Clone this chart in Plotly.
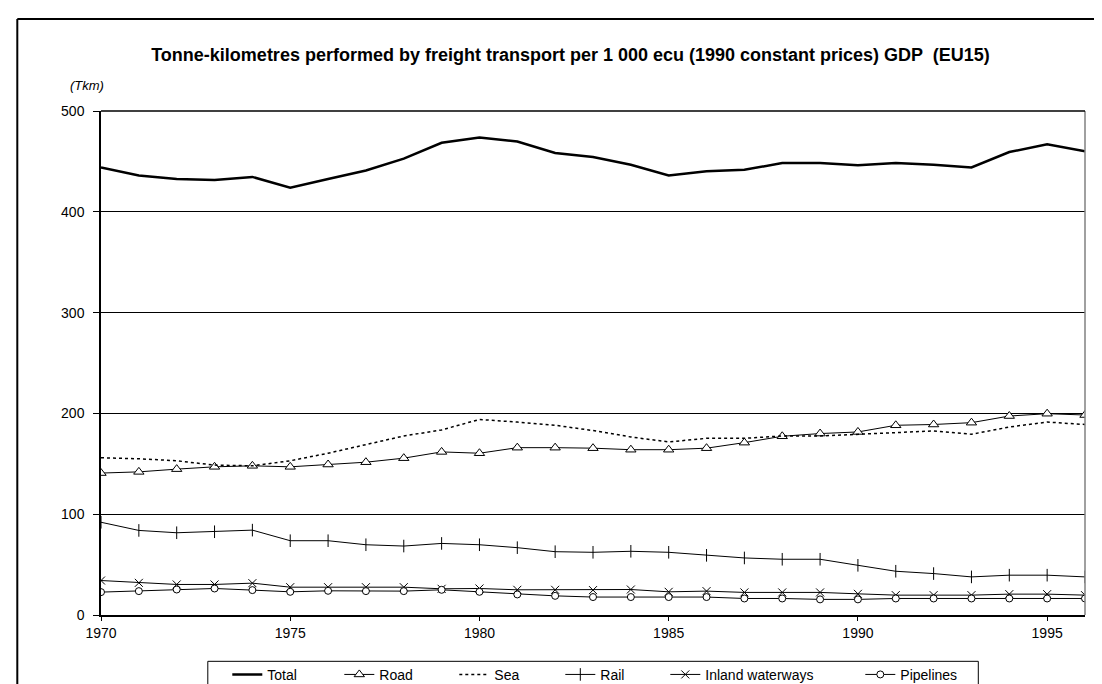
import plotly.graph_objects as go

years = list(range(1970, 1997))

total = [444, 436, 432.6, 431.5, 434.6, 423.8, 432.5, 441, 452.7, 468.5, 473.8, 469.8, 458.4,
         454.3, 446.7, 436, 440.3, 441.7, 448.3, 448.3, 446.3, 448.3, 446.7, 444, 459.3, 467, 460]
road = [140.8, 142, 144.7, 147, 148, 147, 149.3, 151.6, 155.6, 161.8, 160.5, 166, 166,
        165.5, 164, 164, 165.5, 171, 177.3, 180, 181.6, 188.2, 189, 190.8, 197.4, 199.7, 198.4]
sea = [156, 155, 153, 148.7, 148, 153, 160.5, 169.4, 177.6, 183.6, 194, 191.4, 188.2,
       183, 176.6, 171.7, 175.3, 175.3, 177.6, 177.6, 179.3, 180.9, 182.6, 179.3, 186.5, 191.4, 189]
rail = [92, 83.9, 81.6, 82.6, 84.2, 73.7, 73.7, 69.7, 68.4, 71, 69.7, 66.8, 62.8,
        62.2, 63.2, 62.2, 59.2, 56.6, 55.3, 55.3, 49.3, 43.4, 41.1, 37.8, 39.5, 39.5, 37.8]
inland = [34.2, 31.9, 30.3, 30.3, 31.6, 27.6, 27.6, 27.6, 27.6, 26, 26.3, 25, 25,
          24.7, 25.3, 23, 23.7, 22.4, 22.4, 22.4, 21, 19.7, 19.7, 19.7, 20.7, 20.7, 19.7]
pipelines = [22.7, 23.7, 25.3, 26.3, 24.7, 23, 24, 23.7, 23.7, 25, 23, 20.4, 19,
             17.8, 17.8, 17.8, 17.8, 16.4, 16.4, 15.5, 15.5, 16.4, 16.4, 16.4, 16.4, 16.4, 16.4]

series_names = ["Total", "Road", "Sea", "Rail", "Inland waterways", "Pipelines"]
title_text = "Tonne-kilometres performed by freight transport per 1 000 ecu (1990 constant prices) GDP  (EU15)"
unit_text = "(Tkm)"

FONT = "Liberation Sans, Arial, sans-serif"

L, R, T, B = 92.7, 25.3, 103, 77.3
W, H = 1102, 684
pw = W - L - R
ph = H - T - B


def px_x(x):
    return (x - L) / pw


def px_y(y):
    return (H - B - y) / ph


styles = [
    dict(mode="lines", line=dict(color="black", width=2.5)),
    dict(mode="lines+markers", line=dict(color="black", width=1),
         marker=dict(symbol="triangle-up", size=9, color="white",
                     line=dict(color="black", width=1))),
    dict(mode="lines", line=dict(color="black", width=1.5, dash="dot")),
    dict(mode="lines+markers", line=dict(color="black", width=1),
         marker=dict(symbol="line-ns-open", size=9, line=dict(color="black", width=1))),
    dict(mode="lines+markers", line=dict(color="black", width=1),
         marker=dict(symbol="x-thin-open", size=8, line=dict(color="black", width=1))),
    dict(mode="lines+markers", line=dict(color="black", width=1),
         marker=dict(symbol="circle", size=7, color="white",
                     line=dict(color="black", width=1))),
]
values = [total, road, sea, rail, inland, pipelines]
legend_ids = ["legend", "legend2", "legend3", "legend4", "legend5", "legend6"]
legend_line_start = [215, 327, 442, 548, 653, 848]

fig = go.Figure()
for name, vals, st, lid in zip(series_names, values, styles, legend_ids):
    fig.add_trace(go.Scatter(x=years, y=vals, name=name, legend=lid, **st))

legend_layouts = {}
for lid, xs in zip(legend_ids, legend_line_start):
    legend_layouts[lid] = dict(
        orientation="h", x=px_x(xs + 4), xanchor="left",
        y=px_y(666.5), yanchor="middle",
        borderwidth=0, bgcolor="rgba(0,0,0,0)",
        font=dict(family=FONT, size=14, color="black"),
        itemwidth=30)

fig.update_layout(
    width=W, height=H,
    margin=dict(l=L, r=R, t=T, b=B, autoexpand=False),
    paper_bgcolor="white", plot_bgcolor="white",
    font=dict(family=FONT, size=14, color="black"),
    title=dict(text="<b>" + title_text + "</b>", x=562.5 / W, xanchor="center",
               y=1 - 47 / H, yanchor="middle", yref="container",
               font=dict(family=FONT, size=18, color="black")),
    showlegend=True,
    xaxis=dict(range=[1970, 1996], tick0=1970, dtick=5, showgrid=False,
               showline=True, linecolor="black", linewidth=2,
               ticks="outside", ticklen=4, tickcolor="black", tickwidth=1,
               zeroline=False, tickfont=dict(family=FONT, size=14)),
    yaxis=dict(range=[0, 500], tick0=0, dtick=100, showgrid=True,
               gridcolor="black", gridwidth=1,
               showline=True, linecolor="black", linewidth=1.5,
               ticks="outside", ticklen=6, tickcolor="black", tickwidth=1,
               zeroline=False, tickfont=dict(family=FONT, size=14),
               ticklabelstandoff=6),
    annotations=[dict(text="<i>" + unit_text + "</i>", x=px_x(98), xref="paper",
                      y=px_y(78), yref="paper", xanchor="right", yanchor="middle",
                      showarrow=False, font=dict(family=FONT, size=13, color="black"))],
    shapes=[
        dict(type="line", xref="paper", yref="paper", x0=1, x1=1, y0=0, y1=1,
             line=dict(color="#808080", width=1.5)),
        dict(type="line", xref="paper", yref="paper", x0=0, x1=1, y0=1, y1=1,
             line=dict(color="black", width=1.5)),
        dict(type="line", xref="paper", yref="paper",
             x0=px_x(9), x1=px_x(9), y0=px_y(11), y1=px_y(700),
             line=dict(color="black", width=2)),
        dict(type="line", xref="paper", yref="paper",
             x0=px_x(9), x1=px_x(1110), y0=px_y(11), y1=px_y(11),
             line=dict(color="black", width=2)),
        dict(type="rect", xref="paper", yref="paper",
             x0=px_x(199.5), x1=px_x(970), y0=px_y(653), y1=px_y(680),
             line=dict(color="black", width=1), fillcolor="rgba(0,0,0,0)"),
    ],
    **legend_layouts,
)

fig.write_html("out.html")
